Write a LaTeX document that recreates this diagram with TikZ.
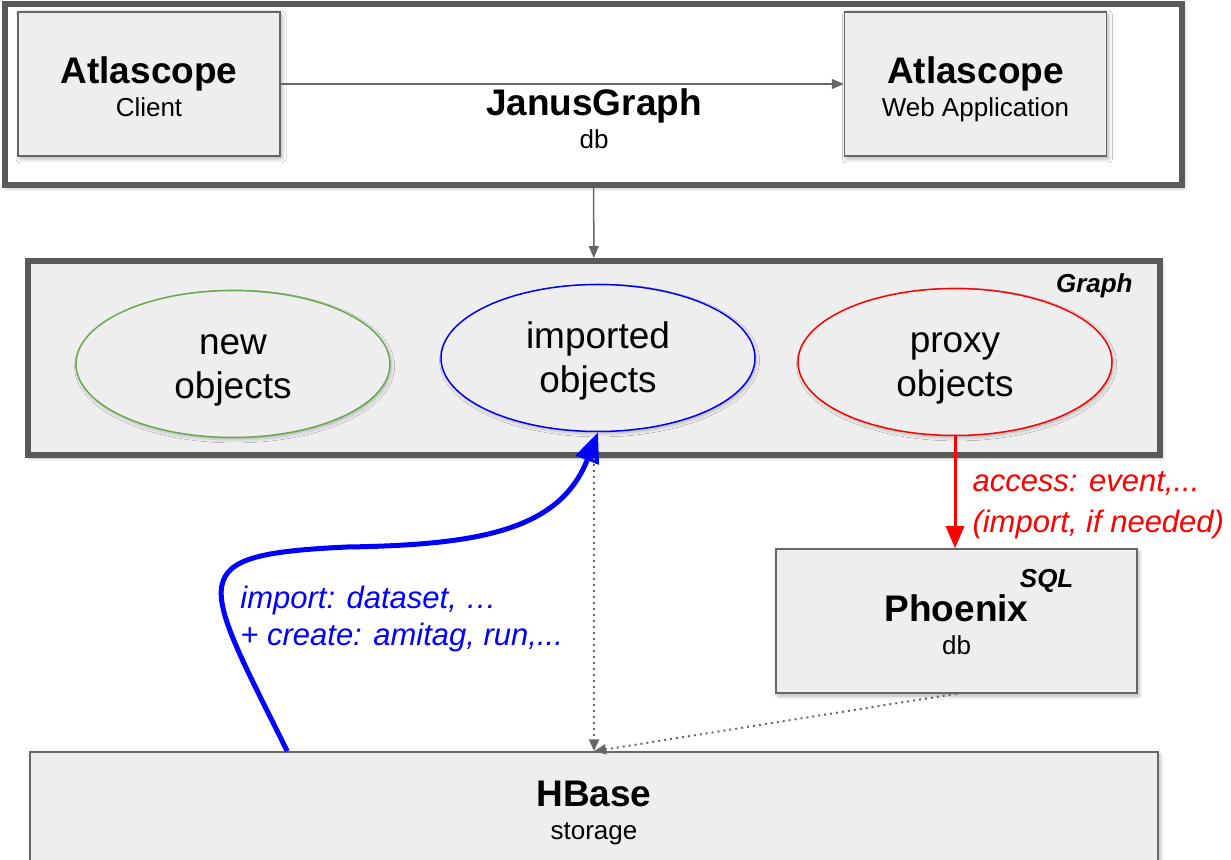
\documentclass[tikz,border=0pt]{standalone}
\usepackage{fontspec}
\setmainfont{Liberation Sans}
\usepackage{xcolor}
\usetikzlibrary{arrows.meta, positioning, shapes.geometric, shadows.blur, calc}

\definecolor{boxfill}{HTML}{EEEEEE}
\definecolor{boxline}{HTML}{666666}
\definecolor{frameline}{HTML}{595959}
\definecolor{newgreen}{HTML}{6AA84F}

\newcommand{\titlesize}{\fontsize{18.5}{22}\selectfont}
\newcommand{\subsize}{\fontsize{13}{16.5}\selectfont}
\newcommand{\notesize}{\fontsize{15.5}{18.5}\selectfont}

\begin{document}
\begin{tikzpicture}[
        x=0.5pt, y=-0.5pt,
        softshadow/.style={blur shadow={shadow xshift=1pt, shadow yshift=-1.5pt, shadow blur radius=2pt, shadow opacity=30}},
        frame/.style={rectangle, draw=frameline, line width=3pt, inner sep=0pt, softshadow},
        box/.style={rectangle, draw=boxline, line width=0.75pt, fill=boxfill, minimum width=131pt, minimum height=72pt, inner sep=0pt, text height=33pt, text depth=0pt, align=center, font=\subsize, softshadow},
        obj/.style={ellipse, draw, line width=0.75pt, fill=boxfill, minimum width=157pt, minimum height=73.5pt, inner sep=0pt, text height=34.6pt, text depth=0pt, align=center, font=\titlesize, blur shadow={shadow xshift=0.8pt, shadow yshift=-1.2pt, shadow blur radius=1.5pt, shadow opacity=22}},
        tag/.style={inner sep=0pt, font=\subsize\bfseries\itshape},
        arrow/.style={draw=boxline, line width=0.75pt, -{Triangle[length=6pt, width=5pt]}},
        dotarrow/.style={arrow, line width=1pt, dash pattern=on 1pt off 2pt},
        redarrow/.style={draw=red, line width=1.5pt, -{Triangle[length=11pt, width=9pt]}},
        bluearrow/.style={draw=blue, line width=2.5pt, -{Triangle[length=15pt, width=12pt]}},
        redtext/.style={inner sep=0pt, align=left, text=red, font=\notesize\itshape, execute at begin node=\setlength{\baselineskip}{20.5pt}},
        bluetext/.style={inner sep=0pt, align=left, text=blue, font=\notesize\itshape}
        ]

        \useasboundingbox (0,0) rectangle (1231,860);
        \clip (0,0) rectangle (1231,860);

        % Nodes
        \node (janus) [frame, fill=white, minimum width=588.5pt, minimum height=90.5pt] at (593.5,94.5) {};
        \node (janustext) [inner sep=0pt, text depth=0pt, align=center, font=\subsize] at (594,119) {{\titlesize\bfseries JanusGraph}\\db};

        \node (client) [box] at (149,84) {{\titlesize\bfseries Atlascope}\\Client};
        \node (webapp) [box, right=281.5pt of client] {{\titlesize\bfseries Atlascope}\\Web Application};

        \node (graph) [frame, fill=boxfill, minimum width=566pt, minimum height=97pt] at (594,358) {};
        \node (graphtag) [tag, anchor=east] at ([xshift=-15pt, yshift=-14pt]graph.north east) {Graph};

        \node (new) [obj, draw=newgreen] at (233,364) {new\\objects};
        \node (imported) [obj, draw=blue] at (598,358) {imported\\objects};
        \node (proxy) [obj, draw=red] at (955,362) {proxy\\objects};

        \node (phoenix) [box, minimum width=180.5pt] at (956.5,621) {{\titlesize\bfseries Phoenix}\\db};
        \node (sqltag) [tag, anchor=east] at ([xshift=-32pt, yshift=-16.5pt]phoenix.north east) {SQL};

        \node (hbase) [box, text height=30pt, minimum width=564pt, minimum height=57pt] at (594,809) {{\titlesize\bfseries HBase}\\storage};

        \node (importnote) [bluetext, anchor=west] at (240,619) {import: dataset, …\\+ create: amitag, run,...};

        % Arrows
        \draw [arrow] (client) -- (webapp);
        \draw [arrow] (janus) -- (graph);

        \draw [redarrow] (proxy.south) -- node[redtext, right=8pt, yshift=-6.5pt] {access: event,...\\(import, if needed)} (proxy.south |- phoenix.north);

        \draw [bluearrow] ([xshift=129pt]hbase.north west) .. controls (200,575) and (180,555) .. (347,547)
            .. controls (480,545) and (560,530) .. (imported.south);

        \draw [dotarrow] (graph.south) -- (hbase.north);
        \draw [dotarrow] (phoenix.south) -- (hbase.north);

\end{tikzpicture}
\end{document}
